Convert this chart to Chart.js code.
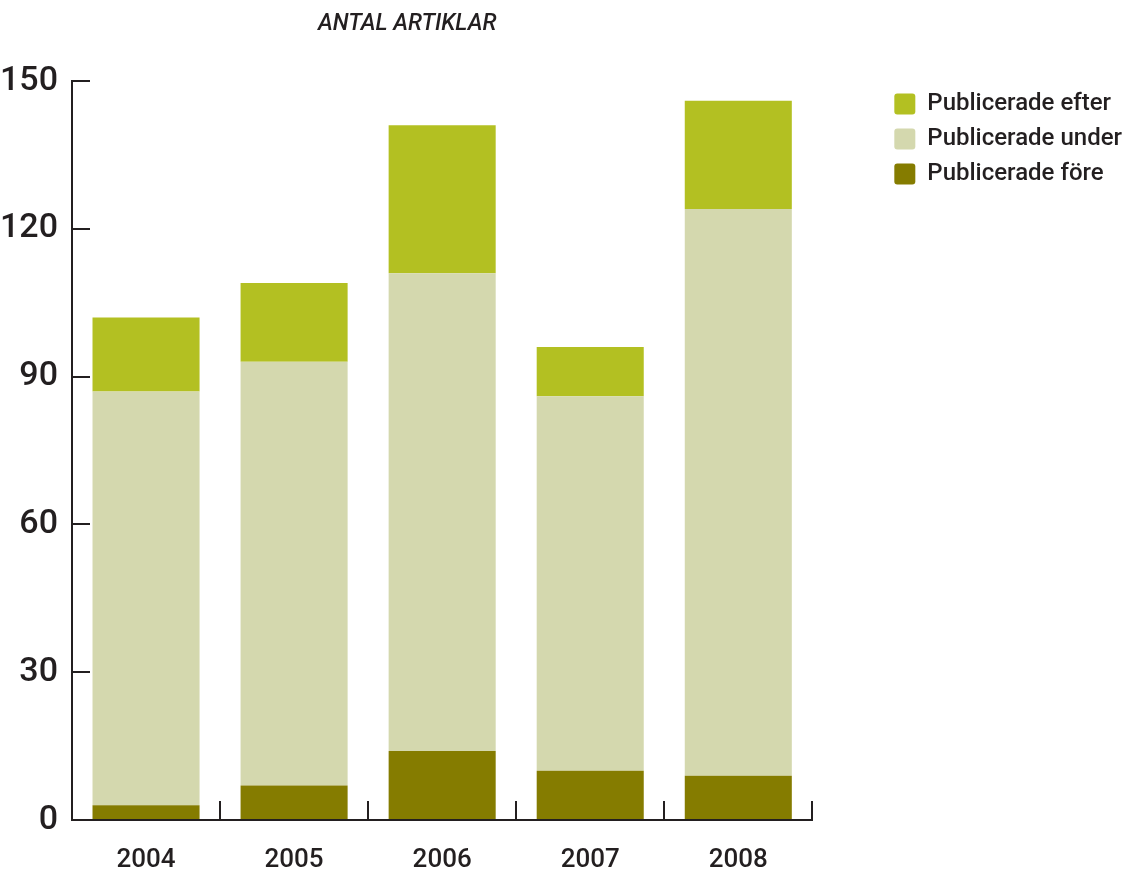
<!DOCTYPE html>
<html>
<head>
<meta charset="utf-8">
<script src="https://cdn.jsdelivr.net/npm/chart.js@4.4.1/dist/chart.umd.min.js"></script>
<style>
  html, body { margin: 0; padding: 0; background: #ffffff; }
  #wrap { width: 1124px; height: 869px; }
</style>
</head>
<body>
<div id="wrap"><canvas id="chart" width="1124" height="869"></canvas></div>
<script>
// data
const years = ['2004', '2005', '2006', '2007', '2008'];
const fore = [3, 7, 14, 10, 9];
const under = [84, 86, 97, 76, 115];
const efter = [15, 16, 30, 10, 22];
const yTicks = [0, 30, 60, 90, 120, 150];

const ink = '#231f20';

// title sits above the plot, left of centre
const titlePlugin = {
    id: 'antalTitle',
    afterDraw(chart) {
        const ctx = chart.ctx;
        ctx.save();
        ctx.font = 'italic 500 23px Roboto';
        ctx.fillStyle = ink;
        ctx.textAlign = 'left';
        ctx.textBaseline = 'middle';
        ctx.fillText('ANTAL ARTIKLAR', chart.chartArea.left + 246, 24);
        ctx.restore();
    }
};

// the layout caps a side legend at width/2/boxes, which clips the labels; lift that cap
const wideLegend = {
    id: 'wideLegend',
    afterInit(chart) {
        const lg = chart.legend;
        const up = lg.update.bind(lg);
        lg.update = (w, h, m) => up(Math.max(w, 300), h, m);
    }
};

const ctx = document.getElementById('chart').getContext('2d');
const chart = new Chart(ctx, {
    type: 'bar',
    data: {
        labels: years,
        datasets: [
            { label: 'Publicerade före', data: fore, backgroundColor: '#857c00' },
            { label: 'Publicerade under', data: under, backgroundColor: '#d4d8ae' },
            { label: 'Publicerade efter', data: efter, backgroundColor: '#b3c022' }
        ]
    },
    options: {
        responsive: false,
        animation: false,
        layout: { padding: { top: 81, right: -8, bottom: 0, left: 0 } },
        datasets: {
            bar: { categoryPercentage: 1, barPercentage: 0.723 }
        },
        plugins: {
            title: { display: false },
            tooltip: { enabled: false },
            legend: {
                position: 'right',
                align: 'start',
                reverse: true,
                labels: {
                    boxWidth: 21,
                    boxHeight: 21,
                    useBorderRadius: true,
                    borderRadius: 3,
                    padding: 11,
                    color: ink,
                    font: { family: 'Roboto', size: 24, weight: '500' }
                }
            }
        },
        scales: {
            x: {
                stacked: true,
                afterFit: (s) => { s.height = 49; },
                border: { display: true, color: ink, width: 2 },
                grid: {
                    offset: true,
                    drawOnChartArea: false,
                    drawTicks: true,
                    tickLength: -19,
                    color: ink,
                    lineWidth: 2
                },
                ticks: {
                    color: ink,
                    padding: 44,
                    font: { family: 'Roboto', size: 26, weight: '500' }
                }
            },
            y: {
                stacked: true,
                min: 0,
                max: 150,
                afterFit: (s) => { s.width = 72; s.paddingTop = 0; s.paddingBottom = 0; },
                afterBuildTicks: (s) => { s.ticks = yTicks.map(v => ({ value: v })); },
                border: { display: true, color: ink, width: 2 },
                grid: {
                    drawOnChartArea: false,
                    drawTicks: true,
                    tickLength: -18,
                    color: ink,
                    lineWidth: 2
                },
                ticks: {
                    color: ink,
                    padding: 32,
                    font: { family: 'Roboto', size: 34, weight: '500' }
                }
            },
            gap: {
                type: 'linear',
                position: 'right',
                display: true,
                min: 0,
                max: 150,
                afterFit: (s) => { s.width = 71; },
                border: { display: false },
                grid: { display: false },
                ticks: { display: false }
            }
        }
    },
    plugins: [titlePlugin, wideLegend]
});
</script>
</body>
</html>
